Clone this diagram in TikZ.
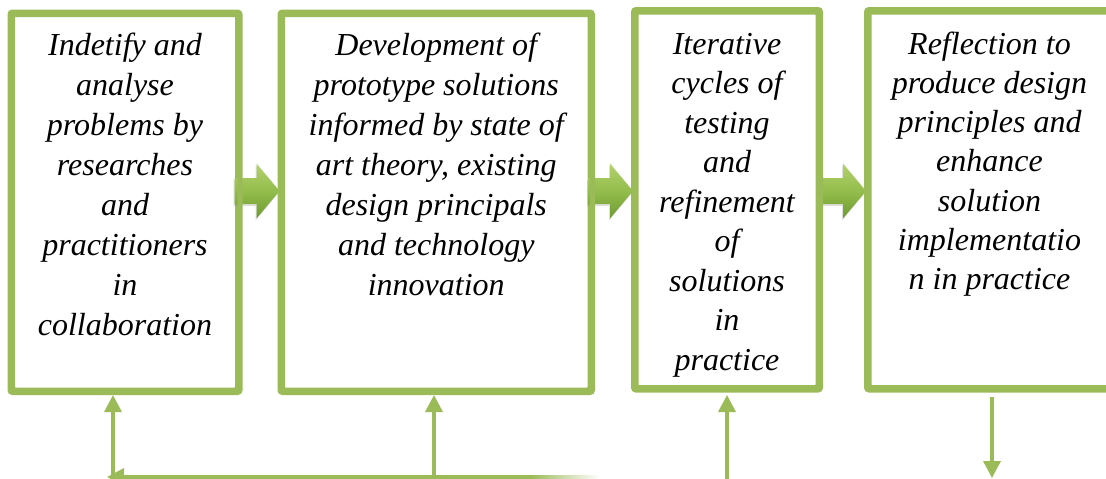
\documentclass[tikz,border=0pt]{standalone}
\usepackage{fontspec}
\setmainfont{Liberation Serif}
\usetikzlibrary{arrows.meta,calc,shadows}
\definecolor{leaf}{HTML}{9BBB59}
\definecolor{leaflight}{HTML}{B4D16E}
\definecolor{leafmid}{HTML}{93BD4C}
\definecolor{leafdark}{HTML}{6F9A32}
\newcommand{\firstline}{\rule{0pt}{25pt}}
\tikzset{
  stagebox/.style={draw=leaf, line width=5pt, rounded corners=2.5pt, fill=white, inner sep=0pt},
  stagetext/.style={font=\itshape\fontsize{32}{40}\selectfont, align=center, anchor=north, inner sep=0pt},
  flow/.style={draw=leaf, line width=3.5pt, -{Triangle[length=17pt,width=17pt]}},
  blockarrow/.style={top color=leaflight, bottom color=leafdark, middle color=leafmid,
    drop shadow={shadow xshift=-1pt, shadow yshift=-2pt, opacity=0.25}}
}
\begin{document}
\begin{tikzpicture}[x=1pt,y=-1pt]
\useasboundingbox (0,0) rectangle (1106,479);
\clip (0,0) rectangle (1106,479);

% stage frames
\node[stagebox, minimum width=225pt, minimum height=375.5pt] (b1) at (125,202.25) {};
\node[stagebox, minimum width=307.5pt, minimum height=375.5pt] (b2) at (436.25,202.25) {};
\node[stagebox, minimum width=182pt, minimum height=375.5pt] (b3) at (727,199.75) {};
\node[stagebox, minimum width=241pt, minimum height=375.5pt] (b4) at (989.5,199.75) {};

% block arrows between consecutive stages (tip on the next frame)
\foreach \nxt/\yy in {b2/191,b3/191,b4/191}{
  \path let \p1=(\nxt.west) in
    [blockarrow, shift={(\x1-0.5pt,-\yy pt)}]
    (-45,-13) -- (-23,-13) -- (-23,-27.5) -- (0,0) -- (-23,27.5) -- (-23,13) -- (-45,13) -- cycle;
}

% frames redrawn on top of the arrow tails
\foreach \b in {b1,b2,b3,b4}{
  \draw[leaf, line width=5pt, rounded corners=2.5pt] (\b.south west) rectangle (\b.north east);
}

% stage texts (first baseline 25pt below the anchor)
\node[stagetext] (t1) at (125,30) {\firstline Indetify and\\analyse\\problems by\\researches\\and\\practitioners\\in\\collaboration};
\node[stagetext] (t2) at (436.25,30) {\firstline Development of\\prototype solutions\\informed by state of\\art theory, existing\\design principals\\and technology\\innovation};
\node[stagetext, font=\itshape\fontsize{32}{39.5}\selectfont] (t3) at (727,29) {\firstline Iterative\\cycles of\\testing\\and\\refinement\\of\\solutions\\in\\practice};
\node[stagetext, font=\itshape\fontsize{32}{39.2}\selectfont] (t4) at (989.5,29) {\firstline Reflection to\\produce design\\principles and\\enhance\\solution\\implementatio\\n in practice};

% feedback connectors below the frames
\coordinate (f1) at (113,479);
\coordinate (f2) at (434,479);
\coordinate (f3) at (727,479);
\coordinate (hr) at (530,477);
\coordinate (hl) at (107,477);
\coordinate (d4) at (992,397);
\coordinate (e4) at (992,478);

\draw[flow] (f1) -- ($(f1 |- b1.south)+(0,2.5)$);
\draw[flow] (f2) -- ($(f2 |- b2.south)+(0,2.5)$);
\draw[flow] (f3) -- ($(f3 |- b3.south)+(0,5)$);
\draw[flow] (d4) -- (e4);
\draw[flow] (hr) -- (hl);
\shade[left color=leaf, right color=white] ($(hr)+(0,-1.75)$) rectangle ($(hr)+(70,1.75)$);
\end{tikzpicture}
\end{document}
